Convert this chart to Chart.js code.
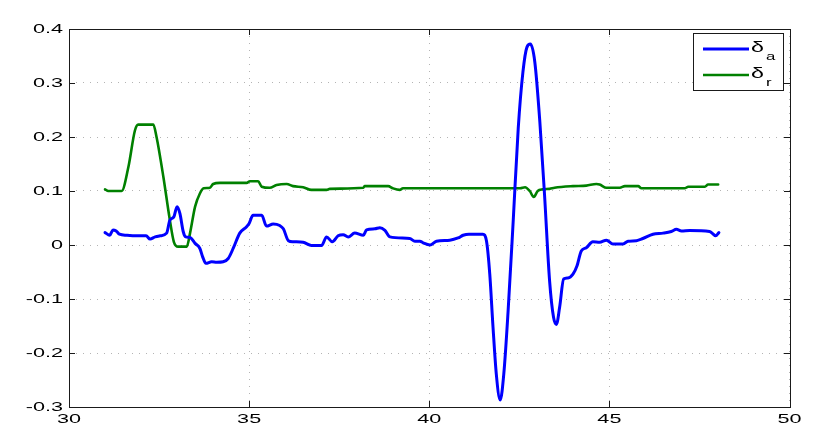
<!DOCTYPE html>
<html>
<head>
<meta charset="utf-8">
<script src="https://cdn.jsdelivr.net/npm/chart.js@4.4.0/dist/chart.umd.min.js"></script>
<style>
  html, body { margin: 0; padding: 0; background: #fff; }
  canvas { display: block; }
</style>
</head>
<body>
<canvas id="chart" width="830" height="443"></canvas>
<script>
// aileron deflection (delta a) vs time
const timeA = [31.0, 31.13, 31.22, 31.31, 31.4, 31.6, 31.88, 32.14, 32.25, 32.39, 32.53, 32.71, 32.8, 32.91, 33.0, 33.08,
  33.17, 33.24, 33.36, 33.5, 33.63, 33.71, 33.8, 33.96, 34.1, 34.28, 34.42, 34.56, 34.74, 34.93, 35.0, 35.11, 35.3,
  35.35, 35.48, 35.67, 35.85, 35.95, 36.09, 36.22, 36.5, 36.73, 37.01, 37.15, 37.31, 37.47, 37.61, 37.75, 37.93, 38.17,
  38.26, 38.49, 38.63, 38.77, 38.91, 39.46, 39.6, 39.74, 39.83, 40.02, 40.2, 40.57, 40.8, 40.94, 41.1, 41.49, 41.59,
  41.68, 41.77, 41.86, 41.97, 42.07, 42.19, 42.33, 42.47, 42.6, 42.71, 42.81, 42.93, 43.07, 43.2, 43.34, 43.45, 43.53,
  43.62, 43.73, 43.85, 43.99, 44.1, 44.22, 44.36, 44.54, 44.73, 44.92, 45.1, 45.38, 45.52, 45.75, 45.93, 46.21, 46.49,
  46.72, 46.86, 47.0, 47.23, 47.78, 47.87, 47.95, 48.04];
const deltaA = [0.023, 0.018, 0.028, 0.026, 0.02, 0.018, 0.017, 0.017, 0.011, 0.015, 0.017, 0.022, 0.046, 0.052, 0.071, 0.058,
  0.025, 0.015, 0.014, 0.003, -0.006, -0.022, -0.034, -0.031, -0.032, -0.031, -0.025, -0.006, 0.022, 0.034, 0.04, 0.055, 0.055,
  0.055, 0.035, 0.039, 0.036, 0.03, 0.008, 0.006, 0.005, -0.001, -0.001, 0.015, 0.006, 0.017, 0.019, 0.015, 0.022, 0.018,
  0.028, 0.03, 0.032, 0.027, 0.015, 0.012, 0.007, 0.007, 0.004, 0.0, 0.007, 0.009, 0.013, 0.018, 0.02, 0.02, 0.007,
  -0.054, -0.152, -0.238, -0.287, -0.238, -0.121, 0.044, 0.216, 0.32, 0.366, 0.372, 0.339, 0.228, 0.093, -0.066, -0.134, -0.147,
  -0.115, -0.063, -0.061, -0.054, -0.039, -0.011, -0.005, 0.006, 0.005, 0.009, 0.002, 0.002, 0.007, 0.008, 0.012, 0.02, 0.022,
  0.025, 0.029, 0.026, 0.027, 0.025, 0.021, 0.017, 0.023];

// rudder deflection (delta r) vs time
const timeR = [31.0, 31.09, 31.46, 31.65, 31.83, 31.92, 32.34, 32.43, 32.62, 32.8, 32.91, 33.03, 33.27, 33.36, 33.5, 33.63,
  33.74, 33.91, 34.0, 34.19, 34.93, 35.02, 35.25, 35.35, 35.57, 35.76, 36.04, 36.22, 36.5, 36.73, 37.15, 37.24, 38.17,
  38.21, 38.86, 38.99, 39.18, 39.27, 42.52, 42.66, 42.79, 42.9, 43.01, 43.15, 43.34, 43.48, 43.99, 44.36, 44.64, 44.73,
  44.92, 45.29, 45.43, 45.8, 45.89, 47.09, 47.19, 47.65, 47.74, 48.02];
const deltaR = [0.103, 0.1, 0.1, 0.145, 0.212, 0.223, 0.223, 0.2, 0.126, 0.046, 0.006, -0.003, -0.003, 0.022, 0.071, 0.095,
  0.105, 0.106, 0.113, 0.115, 0.115, 0.118, 0.118, 0.108, 0.106, 0.111, 0.113, 0.109, 0.107, 0.102, 0.102, 0.104, 0.106,
  0.109, 0.109, 0.105, 0.102, 0.105, 0.105, 0.107, 0.1, 0.089, 0.1, 0.103, 0.104, 0.106, 0.109, 0.11, 0.113, 0.112,
  0.106, 0.106, 0.109, 0.109, 0.105, 0.105, 0.108, 0.108, 0.112, 0.112];

const xTicks = [30, 35, 40, 45, 50];
const yTicks = [-0.3, -0.2, -0.1, 0, 0.1, 0.2, 0.3, 0.4];
const seriesNames = ['δa', 'δr'];
const seriesColors = ['#0000ff', '#008000'];

// the exported figure is stretched sideways, so glyphs are wider than normal
const STRETCH = 1.6;
const FONT = '"Liberation Sans", Arial, Helvetica, sans-serif';
const AXIS_COLOR = '#1a1a1a';

function toPoints(xs, ys) {
    return xs.map((x, i) => ({ x: x, y: ys[i] }));
}

function wideText(ctx, text, x, y, size, align) {
    ctx.save();
    ctx.font = size + 'px ' + FONT;
    ctx.textBaseline = 'middle';
    ctx.textAlign = 'left';
    const w = ctx.measureText(text).width * STRETCH;
    let left = x;
    if (align === 'right') left = x - w;
    if (align === 'center') left = x - w / 2;
    ctx.translate(left, y);
    ctx.scale(STRETCH, 1);
    ctx.fillStyle = '#000';
    ctx.fillText(text, 0, 0);
    ctx.restore();
    return w;
}

// matlab style box, inward ticks, tick labels and legend
const framePlugin = {
    id: 'frame',
    afterDraw(chart) {
        const ctx = chart.ctx;
        const a = chart.chartArea;
        const xs = chart.scales.x, ys = chart.scales.y;
        const L = Math.round(a.left), R = Math.round(a.right);
        const T = Math.round(a.top), B = Math.round(a.bottom);
        ctx.save();
        ctx.fillStyle = AXIS_COLOR;
        // box edges as thin filled strips
        ctx.fillRect(L, T, R - L + 1, 1);
        ctx.fillRect(L, B, R - L + 1, 1);
        ctx.fillRect(L, T, 1, B - T + 1);
        ctx.fillRect(R, T, 1, B - T + 1);

        const tl = 6;
        xTicks.forEach(v => {
            const px = Math.round(xs.getPixelForValue(v));
            ctx.fillRect(px, B - tl, 1, tl);
            ctx.fillRect(px, T, 1, tl);
        });
        yTicks.forEach(v => {
            const py = Math.round(ys.getPixelForValue(v));
            ctx.fillRect(L, py, tl, 1);
            ctx.fillRect(R - tl, py, tl, 1);
        });

        xTicks.forEach(v => {
            wideText(ctx, String(v), xs.getPixelForValue(v), B + 12, 13.5, 'center');
        });
        yTicks.forEach(v => {
            wideText(ctx, String(Number(v.toFixed(1))), L - 6, ys.getPixelForValue(v) + 0.5, 13.5, 'right');
        });

        // legend
        const lx = 693, ly = 33, lw = 90, lh = 57;
        ctx.fillStyle = '#fff';
        ctx.fillRect(lx, ly, lw, lh);
        ctx.setLineDash([]);
        ctx.strokeStyle = AXIS_COLOR;
        ctx.lineWidth = 1;
        ctx.strokeRect(lx + 0.5, ly + 0.5, lw, lh);
        chart.data.datasets.forEach((ds, i) => {
            const rowY = ly + 16 + i * 26;
            ctx.strokeStyle = ds.borderColor;
            ctx.lineWidth = ds.borderWidth;
            ctx.beginPath();
            ctx.moveTo(lx + 10, rowY);
            ctx.lineTo(lx + 56, rowY);
            ctx.stroke();
            const label = ds.label;
            const w = wideText(ctx, label.charAt(0), lx + 58, rowY - 1, 14.5, 'left');
            wideText(ctx, label.slice(1), lx + 58 + w + 2, rowY + 8, 10.5, 'left');
        });
        ctx.restore();
    }
};

new Chart(document.getElementById('chart'), {
    type: 'line',
    data: {
        datasets: [
            {
                label: seriesNames[0],
                data: toPoints(timeA, deltaA),
                borderColor: seriesColors[0],
                borderWidth: 3,
                pointRadius: 0,
                cubicInterpolationMode: 'monotone',
                borderJoinStyle: 'round',
                borderCapStyle: 'round',
                fill: false,
            },
            {
                label: seriesNames[1],
                data: toPoints(timeR, deltaR),
                borderColor: seriesColors[1],
                borderWidth: 2.6,
                pointRadius: 0,
                cubicInterpolationMode: 'monotone',
                borderJoinStyle: 'round',
                borderCapStyle: 'round',
                fill: false,
            },
        ],
    },
    options: {
        responsive: false,
        animation: false,
        devicePixelRatio: 1,
        layout: { padding: { left: 69, right: 40.5, top: 29, bottom: 36 } },
        plugins: { legend: { display: false }, tooltip: { enabled: false } },
        scales: {
            x: {
                type: 'linear',
                min: 30,
                max: 50,
                afterBuildTicks: s => { s.ticks = xTicks.map(v => ({ value: v })); },
                afterFit: s => { s.height = 0; },
                ticks: { display: false },
                border: { display: false, dash: [1, 6] },
                grid: { color: '#b4b4b4', lineWidth: 1, drawTicks: false },
            },
            y: {
                type: 'linear',
                min: -0.3,
                max: 0.4,
                afterBuildTicks: s => { s.ticks = yTicks.map(v => ({ value: v })); },
                afterFit: s => { s.width = 0; },
                ticks: { display: false },
                border: { display: false, dash: [1, 6] },
                grid: { color: '#b4b4b4', lineWidth: 1, drawTicks: false },
            },
        },
    },
    plugins: [framePlugin],
});
</script>
</body>
</html>
